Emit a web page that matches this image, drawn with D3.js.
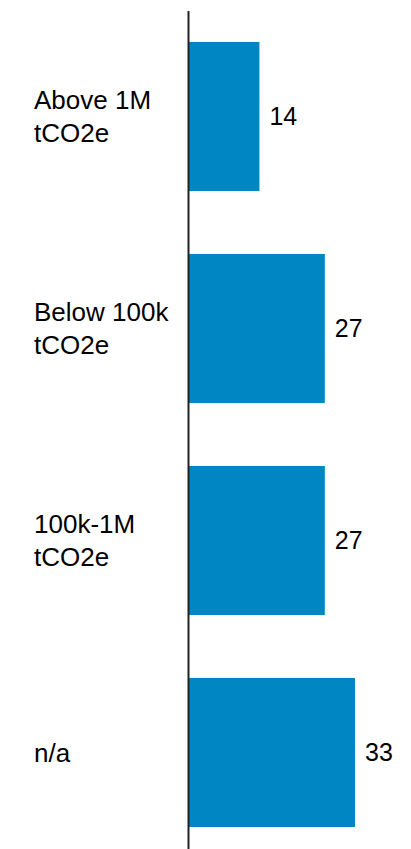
<!DOCTYPE html>
<html>
<head>
<meta charset="utf-8">
<script src="https://cdn.jsdelivr.net/npm/d3@7"></script>
<style>
  body { margin: 0; background: #fff; }
  text { font-family: "Liberation Sans", Arial, sans-serif; fill: #000; }
</style>
</head>
<body>
<div id="chart"></div>
<script>
// chart data
const categories = ["Above 1M tCO2e", "Below 100k tCO2e", "100k-1M tCO2e", "n/a"];
const labelLines = [["Above 1M", "tCO2e"], ["Below 100k", "tCO2e"], ["100k-1M", "tCO2e"], ["n/a"]];
const values = [14, 27, 27, 33];

const width = 411, height = 849;
const axisX = 189;

const svg = d3.select("#chart").append("svg")
    .attr("width", width)
    .attr("height", height);

let x = d3.scaleLinear()
    .domain([0, 33])
    .range([axisX, 355]);

let y = d3.scaleBand()
    .domain(categories)
    .range([10.5, 858.5])
    .paddingInner(0.297)
    .paddingOuter(0.1486);

// bars
svg.append("g")
  .selectAll("rect")
  .data(values)
  .join("rect")
    .attr("x", x(0))
    .attr("y", (d, i) => y(categories[i]))
    .attr("width", d => x(d) - x(0))
    .attr("height", y.bandwidth())
    .attr("fill", "#0086c3");

// value labels
svg.append("g")
  .selectAll("text")
  .data(values)
  .join("text")
    .attr("x", d => x(d) + 10)
    .attr("y", (d, i) => y(categories[i]) + y.bandwidth() / 2)
    .attr("dy", "0.35em")
    .attr("font-size", 25)
    .text(d => d);

// category labels (wrapped)
const lineH = 33;
svg.append("g")
  .selectAll("text")
  .data(labelLines)
  .join("text")
    .attr("x", 34)
    .attr("y", (d, i) => y(categories[i]) + y.bandwidth() / 2 - (d.length - 1) * lineH / 2)
    .attr("font-size", 26)
    .each(function(d) {
      d3.select(this).selectAll("tspan")
        .data(d)
        .join("tspan")
          .attr("x", 34)
          .attr("dy", (t, j) => j === 0 ? "0.35em" : lineH)
          .text(t => t);
    });

// vertical axis line
svg.append("line")
    .attr("x1", axisX - 0.5)
    .attr("x2", axisX - 0.5)
    .attr("y1", 11)
    .attr("y2", height)
    .attr("stroke", "#222")
    .attr("stroke-width", 2);
</script>
</body>
</html>
